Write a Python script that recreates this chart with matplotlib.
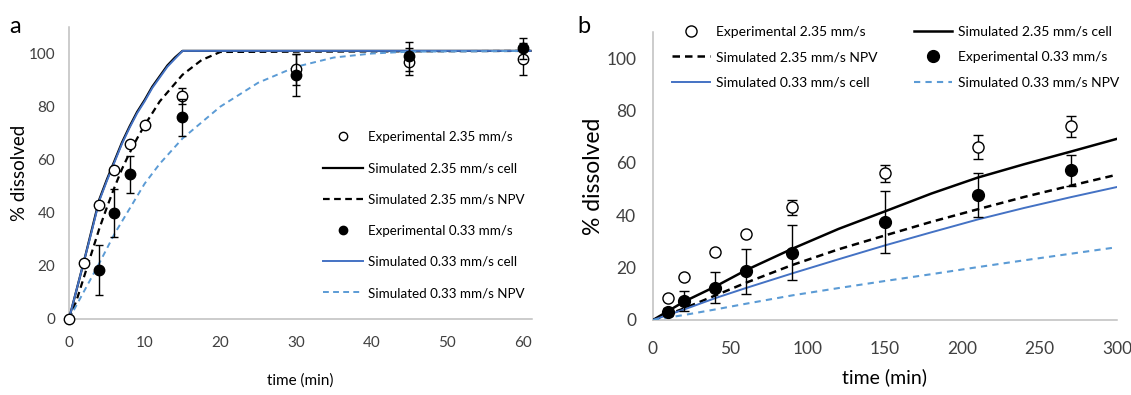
import matplotlib
matplotlib.use("Agg")
import matplotlib.pyplot as plt

# ---------------- data: panel a ----------------
a_exp235_t = [0, 2, 4, 6, 8, 10, 15, 30, 45, 60]
a_exp235_v = [0, 21, 43, 56, 66, 73, 84, 94, 97, 98]
a_exp235_e = [0, 0, 0, 0, 0, 0, 3, 6, 5, 6]

a_exp033_t = [4, 6, 8, 15, 30, 45, 60]
a_exp033_v = [18.5, 40, 54.5, 76, 92, 99, 102]
a_exp033_e = [9.5, 9, 7, 7, 8, 5.5, 4]

a_cell_t = [0, 1, 2, 3, 4, 5, 6, 7, 8, 9, 10, 11, 12, 13, 14, 15, 61]
a_cell235_v = [0, 11, 22, 33.5, 45, 52.5, 59.5, 66.5, 72.5, 78, 82.5, 87.5, 91.5, 95.5,
               98.5, 101, 101]
a_cell033_v = [0, 11, 22, 33, 44.5, 52, 59, 66, 72, 77.5, 82, 87, 91, 95,
               98, 101, 101]

a_npv235_t = [0, 1, 2, 3, 4, 5, 6, 7, 8, 9, 10, 12, 15, 17.5, 20, 61]
a_npv235_v = [0, 7, 16, 25, 34, 42, 49.5, 56.5, 62.5, 68, 73, 82, 92, 97.5, 100.6, 101]

a_npv033_t = [0, 2, 4, 6, 8, 10, 12, 15, 20, 25, 30, 35, 40, 45, 61]
a_npv033_v = [0, 10.5, 21, 32, 41.5, 51, 58.5, 68, 80, 89, 95, 98.5, 100, 100.7, 101]

a_xticks = [0, 10, 20, 30, 40, 50, 60]
a_yticks = [0, 20, 40, 60, 80, 100]

# ---------------- data: panel b ----------------
b_exp_t = [10, 20, 40, 60, 90, 150, 210, 270]
b_exp235_v = [8.5, 16.5, 26, 33, 43, 56, 66, 74]
b_exp235_e = [0, 0, 0, 0, 3, 3.3, 4.5, 4]
b_exp033_v = [3.2, 7.3, 12.4, 18.6, 25.7, 37.3, 47.8, 57.2]
b_exp033_e = [1.5, 3.7, 6, 8.6, 10.6, 11.8, 8.4, 6]

b_sim_t = [0, 20, 40, 60, 90, 120, 150, 180, 210, 240, 270, 300]
b_cell235_v = [0, 7, 12.7, 19, 27.2, 34.8, 41.5, 48.3, 54.4, 59.5, 64.3, 69.2]
b_npv235_v = [0, 4.4, 9.3, 14.2, 21, 27, 32.3, 37.5, 42.3, 47, 51.3, 55.5]
b_cell033_v = [0, 4, 8.3, 12.2, 17.8, 23.2, 28.5, 33.5, 38.4, 42.8, 46.9, 50.8]
b_npv033_v = [0, 1.9, 4, 6.2, 9.4, 12.2, 14.9, 17.5, 20.2, 22.8, 25.3, 27.8]

b_xticks = [0, 50, 100, 150, 200, 250, 300]
b_yticks = [0, 20, 40, 60, 80, 100]

labels = ["Experimental 2.35 mm/s", "Simulated 2.35 mm/s cell",
          "Simulated 2.35 mm/s NPV", "Experimental 0.33 mm/s",
          "Simulated 0.33 mm/s cell", "Simulated 0.33 mm/s NPV"]

BLUE = "#4472C4"
LBLUE = "#5B9BD5"
SPINE = "#BFBFBF"
TXT = "#404040"
FONT_A = ["Lato", "DejaVu Sans"]
FONT_B = ["Lato", "DejaVu Sans"]

W, H = 1131, 395
fig = plt.figure(figsize=(W / 100, H / 100), dpi=100)


def style_axes(ax, fam, tsize, xpad, ypad):
    for s in ["top", "right"]:
        ax.spines[s].set_visible(False)
    for s in ["left", "bottom"]:
        ax.spines[s].set_color(SPINE)
        ax.spines[s].set_linewidth(1.1)
    ax.tick_params(axis="both", length=0, colors=TXT, labelsize=tsize)
    ax.tick_params(axis="x", pad=xpad)
    ax.tick_params(axis="y", pad=ypad)
    for lab in ax.get_xticklabels() + ax.get_yticklabels():
        lab.set_family(fam)


# ---------------- panel a ----------------
axa = fig.add_axes([69 / W, 1 - 319 / H, (532 - 69) / W, (319 - 27) / H])
h1, = axa.plot(a_exp235_t, a_exp235_v, "o", ms=7.5, mfc="white", mec="black",
               mew=1.0, zorder=5, label=labels[0])
axa.errorbar(a_exp235_t, a_exp235_v, yerr=a_exp235_e, fmt="none", ecolor="black",
             elinewidth=1.0, capsize=3, capthick=1.0, zorder=4)
h2, = axa.plot(a_cell_t, a_cell235_v, "-", color="black", lw=1.6, zorder=3, label=labels[1])
h3, = axa.plot(a_npv235_t, a_npv235_v, color="black", lw=1.6, dashes=(3, 2), zorder=3,
               label=labels[2])
h4, = axa.plot(a_exp033_t, a_exp033_v, "o", ms=7.5, mfc="black", mec="black",
               zorder=6, label=labels[3])
axa.errorbar(a_exp033_t, a_exp033_v, yerr=a_exp033_e, fmt="none", ecolor="black",
             elinewidth=1.0, capsize=3, capthick=1.0, zorder=6)
h5, = axa.plot(a_cell_t, a_cell033_v, "-", color=BLUE, lw=1.4, zorder=3, label=labels[4])
h6, = axa.plot(a_npv033_t, a_npv033_v, color=LBLUE, lw=1.4, dashes=(3, 2.2), zorder=3,
               label=labels[5])
axa.set_xlim(0, 61.2)
axa.set_ylim(0, 110)
axa.set_xticks(a_xticks)
axa.set_yticks(a_yticks)
style_axes(axa, FONT_A, 11, 12, 10)
for ln in axa.lines:
    ln.set_clip_on(False)
axa.set_xlabel("time (min)", family=FONT_A, fontsize=11, color="black", labelpad=17)
axa.set_ylabel("% dissolved", family=FONT_A, fontsize=13.5, color="black", labelpad=0)
leg_a = axa.legend([h1, h2, h3, h4, h5, h6], labels, loc="upper left",
                   bbox_to_anchor=(323 / W, 1 - 131 / H), bbox_transform=fig.transFigure,
                   frameon=False, prop={"family": FONT_A, "size": 9.6},
                   handlelength=3.0, handletextpad=0.4, labelspacing=1.44,
                   borderpad=0, borderaxespad=0, markerscale=0.8)

# ---------------- panel b ----------------
axb = fig.add_axes([653 / W, 1 - 320 / H, (1117 - 653) / W, (320 - 32) / H])
g1, = axb.plot(b_exp_t, b_exp235_v, "o", ms=8, mfc="white", mec="black", mew=1.0,
               zorder=5, label=labels[0])
axb.errorbar(b_exp_t, b_exp235_v, yerr=b_exp235_e, fmt="none", ecolor="black",
             elinewidth=1.0, capsize=3.5, capthick=1.0, zorder=4)
g2, = axb.plot(b_sim_t, b_cell235_v, "-", color="black", lw=1.8, zorder=3, label=labels[1])
g3, = axb.plot(b_sim_t, b_npv235_v, color="black", lw=1.8, dashes=(3, 2), zorder=3,
               label=labels[2])
g4, = axb.plot(b_exp_t, b_exp033_v, "o", ms=8.5, mfc="black", mec="black", zorder=6,
               label=labels[3])
axb.errorbar(b_exp_t, b_exp033_v, yerr=b_exp033_e, fmt="none", ecolor="black",
             elinewidth=1.0, capsize=3.5, capthick=1.0, zorder=6)
g5, = axb.plot(b_sim_t, b_cell033_v, "-", color=BLUE, lw=1.4, zorder=3, label=labels[4])
g6, = axb.plot(b_sim_t, b_npv033_v, color=LBLUE, lw=1.5, dashes=(3, 2.5), zorder=3,
               label=labels[5])
axb.set_xlim(0, 300)
axb.set_ylim(0, 110)
axb.set_xticks(b_xticks)
axb.set_yticks(b_yticks)
style_axes(axb, FONT_B, 12.5, 15, 12)
axb.set_xlabel("time (min)", family=FONT_B, fontsize=14, color="black", labelpad=8)
axb.set_ylabel("% dissolved", family=FONT_B, fontsize=16.5, color="black", labelpad=2)
# column-major order for ncol=2 so that rows read as in the reference
leg_b = axb.legend([g1, g3, g5, g2, g4, g6],
                   [labels[0], labels[2], labels[4], labels[1], labels[3], labels[5]],
                   ncol=2, loc="upper left", bbox_to_anchor=(672 / W, 1 - 26 / H),
                   bbox_transform=fig.transFigure, frameon=False,
                   prop={"family": FONT_B, "size": 10},
                   handlelength=2.7, handletextpad=0.5, labelspacing=0.95,
                   columnspacing=2.6, borderpad=0, borderaxespad=0)

# panel letters
fig.text(9 / W, 1 - 33 / H, "a", family=FONT_B, fontsize=17, color="black")
fig.text(577 / W, 1 - 33 / H, "b", family=FONT_B, fontsize=17, color="black")

fig.savefig("out.png", dpi=100)
